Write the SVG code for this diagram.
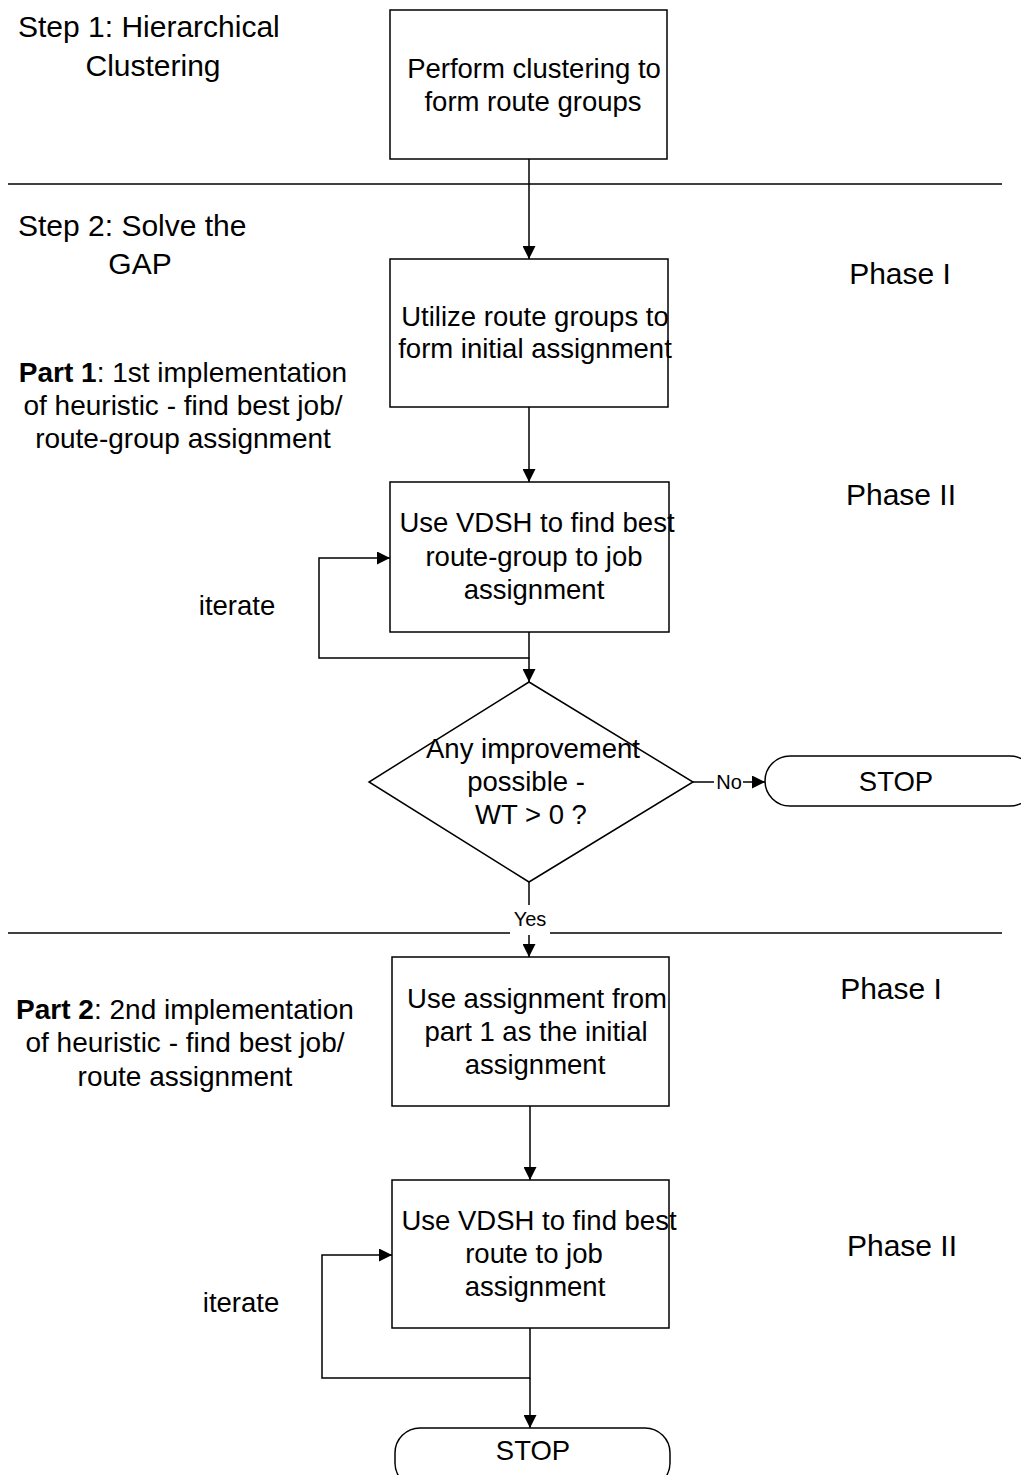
<svg xmlns="http://www.w3.org/2000/svg" width="1021" height="1475" viewBox="0 0 1021 1475">
<style>
text{font-family:"Liberation Sans",Arial,sans-serif;font-size:27.5px;fill:#000}
.c{text-anchor:middle}
.big{font-size:30px}
.p{font-size:28px}
.s{font-size:20px}
.box{fill:#fff;stroke:#000;stroke-width:1.5}
.ln{fill:none;stroke:#000;stroke-width:1.5}
</style>
<defs>
<marker id="ah" viewBox="0 0 10 10" refX="10" refY="5" markerWidth="13" markerHeight="13" markerUnits="userSpaceOnUse" orient="auto">
<path d="M0,0 L10,5 L0,10 z" fill="#000"/>
</marker>
</defs>
<g id="labels">
<text x="18" y="37" class="big">Step 1: Hierarchical</text>
<text x="153" y="76" class="c big">Clustering</text>
<text x="18" y="236" class="big">Step 2: Solve the</text>
<text x="140" y="274" class="c big">GAP</text>
<text x="183" y="382" class="c p"><tspan font-weight="bold">Part 1</tspan>: 1st implementation</text>
<text x="183" y="415" class="c p">of heuristic - find best job/</text>
<text x="183" y="448" class="c p">route-group assignment</text>
<text x="185" y="1019" class="c p"><tspan font-weight="bold">Part 2</tspan>: 2nd implementation</text>
<text x="185" y="1052" class="c p">of heuristic - find best job/</text>
<text x="185" y="1086" class="c p">route assignment</text>
<text x="900" y="284" class="c big">Phase I</text>
<text x="901" y="505" class="c big">Phase II</text>
<text x="891" y="999" class="c big">Phase I</text>
<text x="902" y="1256" class="c big">Phase II</text>
<text x="237" y="615" class="c">iterate</text>
<text x="241" y="1312" class="c">iterate</text>
</g>
<g id="dividers">
<line x1="8" y1="184" x2="1002" y2="184" class="ln"/>
<line x1="8" y1="933" x2="510" y2="933" class="ln"/>
<line x1="550" y1="933" x2="1002" y2="933" class="ln"/>
</g>
<g id="connectors">
<line x1="529" y1="159" x2="529" y2="259" class="ln" marker-end="url(#ah)"/>
<line x1="529" y1="407" x2="529" y2="482" class="ln" marker-end="url(#ah)"/>
<polyline points="529,632 529,658 319,658 319,558 390,558" class="ln" marker-end="url(#ah)"/>
<line x1="529" y1="658" x2="529" y2="682" class="ln" marker-end="url(#ah)"/>
<line x1="693" y1="782" x2="714" y2="782" class="ln"/>
<line x1="743" y1="782" x2="765" y2="782" class="ln" marker-end="url(#ah)"/>
<text x="729" y="789" class="c s">No</text>
<line x1="529" y1="882" x2="529" y2="905" class="ln"/>
<text x="530" y="926" class="c s">Yes</text>
<line x1="529" y1="935" x2="529" y2="957" class="ln" marker-end="url(#ah)"/>
<line x1="530" y1="1106" x2="530" y2="1180" class="ln" marker-end="url(#ah)"/>
<polyline points="530,1328 530,1378 322,1378 322,1255 392,1255" class="ln" marker-end="url(#ah)"/>
<line x1="530" y1="1378" x2="530" y2="1428" class="ln" marker-end="url(#ah)"/>
</g>
<g id="n1">
<rect x="390" y="10" width="277" height="149" class="box"/>
<text x="534" y="78" class="c">Perform clustering to</text>
<text x="533" y="111" class="c">form route groups</text>
</g>
<g id="n2">
<rect x="390" y="259" width="278" height="148" class="box"/>
<text x="535" y="326" class="c">Utilize route groups to</text>
<text x="535" y="358" class="c">form initial assignment</text>
</g>
<g id="n3">
<rect x="390" y="482" width="279" height="150" class="box"/>
<text x="537" y="532" class="c">Use VDSH to find best</text>
<text x="534" y="566" class="c">route-group to job</text>
<text x="534" y="599" class="c">assignment</text>
</g>
<g id="n4">
<polygon points="529,682 693,782 529,882 369,782" class="box"/>
<text x="533" y="758" class="c">Any improvement</text>
<text x="526" y="791" class="c">possible -</text>
<text x="531" y="824" class="c">WT &gt; 0 ?</text>
</g>
<g id="n5">
<rect x="765" y="756" width="270" height="50" rx="25" class="box"/>
<text x="896" y="791" class="c">STOP</text>
</g>
<g id="n6">
<rect x="392" y="957" width="277" height="149" class="box"/>
<text x="537" y="1008" class="c">Use assignment from</text>
<text x="536" y="1041" class="c">part 1 as the initial</text>
<text x="535" y="1074" class="c">assignment</text>
</g>
<g id="n7">
<rect x="392" y="1180" width="277" height="148" class="box"/>
<text x="539" y="1230" class="c">Use VDSH to find best</text>
<text x="534" y="1263" class="c">route to job</text>
<text x="535" y="1296" class="c">assignment</text>
</g>
<g id="n8">
<rect x="395" y="1428" width="275" height="60" rx="25" class="box"/>
<text x="533" y="1460" class="c">STOP</text>
</g>
</svg>
